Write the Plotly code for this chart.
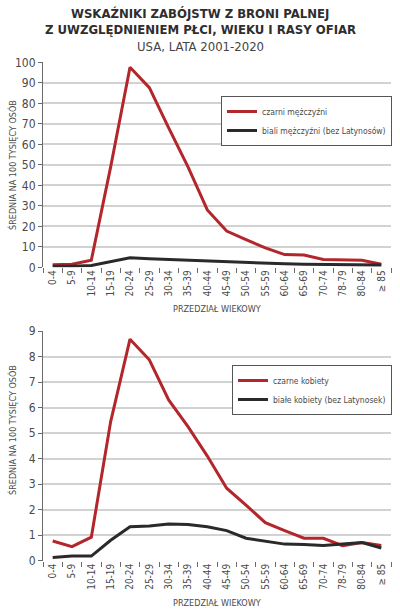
import plotly.graph_objects as go

categories = ["0-4", "5-9", "10-14", "15-19", "20-24", "25-29", "30-34", "35-39", "40-44",
              "45-49", "50-54", "55-59", "60-64", "65-69", "70-74", "78-79", "80-84", "≥ 85"]

black_men = [1.2, 1.5, 3.5, 49, 97.6, 87.6, 68, 49, 28, 17.7, 13.5, 9.5, 6.2, 6.0, 3.8, 3.5, 3.4, 1.5]
white_men = [0.5, 0.5, 0.9, 2.7, 4.6, 4.2, 3.8, 3.4, 3.0, 2.6, 2.3, 2.0, 1.7, 1.5, 1.4, 1.3, 1.2, 1.1]
black_women = [0.77, 0.55, 0.92, 5.45, 8.68, 7.87, 6.3, 5.25, 4.1, 2.84, 2.18, 1.49, 1.18, 0.88, 0.88, 0.59, 0.71, 0.6]
white_women = [0.13, 0.18, 0.18, 0.8, 1.33, 1.36, 1.44, 1.42, 1.33, 1.18, 0.88, 0.77, 0.65, 0.63, 0.6, 0.65, 0.71, 0.5]

top_ticks = list(range(0, 101, 10))
bottom_ticks = list(range(0, 10))

RED = "#b3262b"
BLACK = "#2a2a2a"
GRID = "#d2d2d2"
AXIS = "#6a6a6a"
TXT = "#4a4a4a"
FONT = "DejaVu Sans Condensed, sans-serif"

fig = go.Figure()
fig.add_trace(go.Scatter(x=categories, y=black_men, mode="lines", name="czarni mężczyźni",
                         line=dict(color=RED, width=3), xaxis="x", yaxis="y", legend="legend"))
fig.add_trace(go.Scatter(x=categories, y=white_men, mode="lines", name="biali mężczyźni (bez Latynosów)",
                         line=dict(color=BLACK, width=3), xaxis="x", yaxis="y", legend="legend"))
fig.add_trace(go.Scatter(x=categories, y=black_women, mode="lines", name="czarne kobiety",
                         line=dict(color=RED, width=3), xaxis="x2", yaxis="y2", legend="legend2"))
fig.add_trace(go.Scatter(x=categories, y=white_women, mode="lines", name="białe kobiety (bez Latynosek)",
                         line=dict(color=BLACK, width=3), xaxis="x2", yaxis="y2", legend="legend2"))

H = 613.0
xdom = [43 / 400, 391 / 400]

def xaxis(anchor):
    return dict(domain=xdom, anchor=anchor, type="category", range=[-0.5, 17.5],
                showgrid=False, showline=False, zeroline=False, automargin=False,
                ticks="outside", tickson="boundaries", ticklen=5, tickwidth=1, tickcolor=AXIS,
                tickangle=-90, tickfont=dict(family=FONT, size=10, color=TXT), fixedrange=True)

def yaxis(anchor, dom, rng, ticks):
    return dict(domain=dom, anchor=anchor, range=rng, tickmode="array", tickvals=ticks,
                showgrid=True, gridcolor=GRID, gridwidth=1.5, zeroline=False, automargin=False,
                showline=True, linecolor=AXIS, linewidth=1,
                ticks="outside", ticklen=4, tickcolor=AXIS,
                tickfont=dict(family=FONT, size=12, color=TXT), fixedrange=True)

legend_common = dict(bgcolor="white", bordercolor="#555555", borderwidth=1,
                     font=dict(family=FONT, size=8.5, color=TXT),
                     xanchor="left", yanchor="top", tracegroupgap=0, itemwidth=30)

fig.update_layout(
    width=400, height=613,
    margin=dict(l=0, r=0, t=0, b=0, autoexpand=False),
    paper_bgcolor="white", plot_bgcolor="white",
    xaxis=xaxis("y"),
    yaxis=yaxis("x", [1 - 267.3 / H, 1 - 62.3 / H], [0, 100], top_ticks),
    xaxis2=xaxis("y2"),
    yaxis2=yaxis("x2", [1 - 560.7 / H, 1 - 331 / H], [0, 9], bottom_ticks),
    legend=dict(x=221 / 400, y=1 - 96 / H, **legend_common),
    legend2=dict(x=232 / 400, y=1 - 365 / H, **legend_common),
    showlegend=True,
)

annots = [
    dict(text="<b>WSKAŹNIKI ZABÓJSTW Z BRONI PALNEJ</b>", x=0.5, y=1 - 13 / H,
         font=dict(family=FONT, size=13, color="#2e2e2e")),
    dict(text="<b>Z UWZGLĘDNIENIEM PŁCI, WIEKU I RASY OFIAR</b>", x=0.5, y=1 - 30 / H,
         font=dict(family=FONT, size=13, color="#2e2e2e")),
    dict(text="USA, LATA 2001-2020", x=0.5, y=1 - 46 / H,
         font=dict(family=FONT, size=13, color="#444444")),
    dict(text="PRZEDZIAŁ WIEKOWY", x=217 / 400, y=1 - 309 / H,
         font=dict(family=FONT, size=9, color=TXT)),
    dict(text="PRZEDZIAŁ WIEKOWY", x=217 / 400, y=1 - 603 / H,
         font=dict(family=FONT, size=9, color=TXT)),
    dict(text="ŚREDNIA NA 100 TYSIĘCY OSÓB", x=12 / 400, y=1 - 165 / H, textangle=-90,
         font=dict(family=FONT, size=9, color=TXT)),
    dict(text="ŚREDNIA NA 100 TYSIĘCY OSÓB", x=12 / 400, y=1 - 430 / H, textangle=-90,
         font=dict(family=FONT, size=9, color=TXT)),
]
for a in annots:
    a.update(xref="paper", yref="paper", showarrow=False, xanchor="center", yanchor="middle")
    fig.add_annotation(**a)

fig.write_html("out.html", config={"displayModeBar": False},
               post_script="document.body.style.margin='0';")
